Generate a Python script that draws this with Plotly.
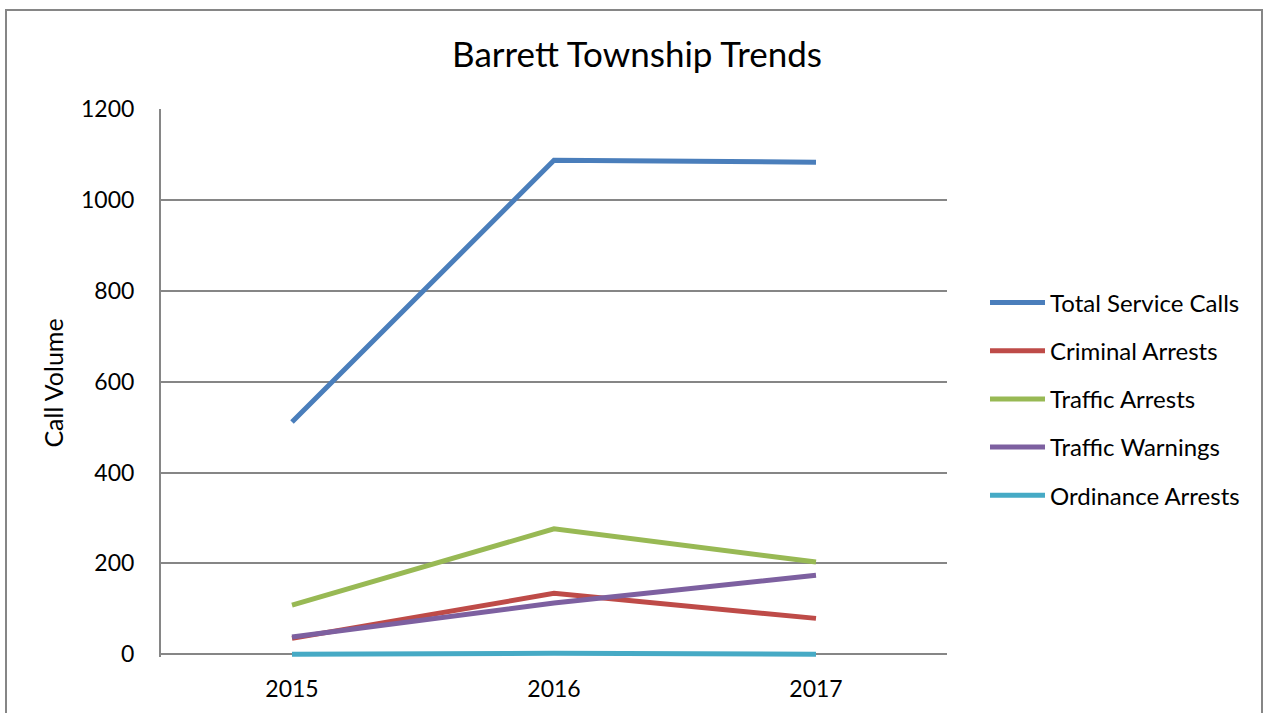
import plotly.graph_objects as go

years = ["2015", "2016", "2017"]
total_service_calls = [511, 1087, 1083]
criminal_arrests = [35, 134, 79]
traffic_arrests = [108, 276, 203]
traffic_warnings = [38, 113, 174]
ordinance_arrests = [0, 2, 0]

SERIES = [
    ("Total Service Calls", total_service_calls, "#4A7EBB"),
    ("Criminal Arrests", criminal_arrests, "#BE4B48"),
    ("Traffic Arrests", traffic_arrests, "#98B954"),
    ("Traffic Warnings", traffic_warnings, "#7D60A0"),
    ("Ordinance Arrests", ordinance_arrests, "#46AAC5"),
]

FONT = "Lato, Calibri, Carlito, sans-serif"
L, R, T, B = 161, 324, 109, 56
W, H = 1271, 713
pw, ph = W - L - R, H - T - B

fig = go.Figure()
for name, vals, col in SERIES:
    fig.add_scatter(x=years, y=vals, name=name, mode="lines", legendgroup=name,
                    line=dict(color=col, width=5))

fig.update_layout(
    width=W, height=H, margin=dict(l=L, r=R, t=T, b=B, autoexpand=False),
    paper_bgcolor="white", plot_bgcolor="white",
    font=dict(family=FONT, size=23, color="black"),
    title=dict(text="Barrett Township Trends", x=637 / W, xref="container",
               xanchor="center", y=1 - 55 / H, yanchor="middle", font=dict(size=35)),
    showlegend=True,
    legend=dict(x=1 + (985 - (W - R)) / pw, y=0.5 + 0.2 - 7 / ph, xanchor="left",
                yanchor="top", font=dict(size=24), tracegroupgap=14, itemwidth=55,
                bgcolor="rgba(0,0,0,0)"),
    xaxis=dict(type="category", range=[-0.5, 2.5], showgrid=False, showline=False,
               ticks="", tickfont=dict(size=23), ticklabelstandoff=16,
               automargin=False),
    yaxis=dict(range=[-6, 1200], dtick=200, showgrid=True, gridcolor="#868686",
               gridwidth=1.5, showline=True, linecolor="#868686", linewidth=2,
               zeroline=False, ticks="", ticklabelstandoff=20, automargin=False,
               title=dict(text="Call Volume", font=dict(size=25), standoff=10)),
    shapes=[dict(type="rect", xref="paper", yref="paper",
                 x0=(6 - L) / pw, x1=(1262 - L) / pw,
                 y0=-0.3, y1=(H - B - 10) / ph,
                 line=dict(color="#868686", width=2), layer="below")],
)

fig.write_html("out.html", config={"displayModeBar": False},
               post_script="document.body.style.margin='0';")
